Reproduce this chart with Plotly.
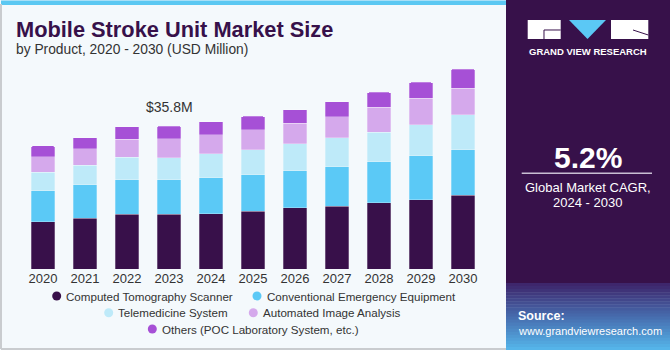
import plotly.graph_objects as go

# ---------------- data ----------------
years = ["2020", "2021", "2022", "2023", "2024", "2025", "2026", "2027", "2028", "2029", "2030"]
ct_scanner = [11.8, 12.7, 13.7, 13.7, 13.8, 14.5, 15.3, 15.7, 16.6, 17.3, 18.5]
emergency_equipment = [7.8, 8.4, 8.7, 8.7, 9.1, 9.1, 9.3, 9.9, 10.3, 11.0, 11.3]
telemedicine = [4.6, 4.9, 5.6, 5.5, 5.9, 6.3, 6.7, 7.3, 7.3, 7.8, 8.8]
image_analysis = [3.9, 4.1, 4.5, 4.7, 4.8, 5.0, 5.2, 5.2, 6.3, 6.7, 6.7]
others = [2.7, 2.8, 3.1, 3.2, 3.3, 3.3, 3.4, 3.8, 3.7, 3.9, 4.7]

series_names = [
    "Computed Tomography Scanner",
    "Conventional Emergency Equipment",
    "Telemedicine System",
    "Automated Image Analysis",
    "Others (POC Laboratory System, etc.)",
]
series_values = [ct_scanner, emergency_equipment, telemedicine, image_analysis, others]
series_colors = ["#38104A", "#5BC9F6", "#BEEAF9", "#D5A9EC", "#A650D6"]

highlight_year = "2023"
highlight_label = "$35.8M"
cagr_text = "5.2%"

# ---------------- layout geometry ----------------
W, H = 670, 350
L, R, T, B = 22, 186, 60, 81
pw, ph = W - L - R, H - T - B
px_per_unit = 3.994


def fx(p):
    return (p - L) / pw


def fy(p):
    return (H - B - p) / ph


fig = go.Figure()
for name, vals, color in zip(series_names, series_values, series_colors):
    fig.add_trace(go.Bar(
        x=years, y=vals, name=name, showlegend=False,
        marker=dict(color=color, line=dict(width=0.6, color="rgba(255,255,255,0.45)")),
        hoverinfo="skip",
    ))

shapes = []
annotations = []

# backgrounds
shapes.append(dict(type="rect", xref="paper", yref="paper", x0=fx(506), x1=fx(670), y0=fy(0), y1=fy(283),
                   fillcolor="#37114A", line_width=0, layer="below"))
top_c = (0x3E, 0x26, 0x6C)
mid_c = (0x47, 0x6C, 0xAE)
bot_c = (0x55, 0xB4, 0xE9)
steps = 22
y_start, y_end = 283, 350
for i in range(steps):
    t = i / (steps - 1)
    if t < 0.5:
        a, b_, tt = top_c, mid_c, t / 0.5
    else:
        a, b_, tt = mid_c, bot_c, (t - 0.5) / 0.5
    c = tuple(int(a[k] + (b_[k] - a[k]) * tt) for k in range(3))
    y0 = y_start + (y_end - y_start) * i / steps
    y1 = y_start + (y_end - y_start) * (i + 1) / steps
    shapes.append(dict(type="rect", xref="paper", yref="paper", x0=fx(506), x1=fx(670), y0=fy(y0), y1=fy(y1 + 0.5),
                       fillcolor="rgb(%d,%d,%d)" % c, line_width=0, layer="below"))

shapes.append(dict(type="rect", xref="paper", yref="paper", x0=fx(1), x1=fx(506), y0=fy(0.5), y1=fy(5),
                   fillcolor="#5BC8F2", line_width=0, layer="below"))
shapes.append(dict(type="line", xref="paper", yref="paper", x0=fx(1), x1=fx(1), y0=fy(4), y1=fy(349),
                   line=dict(color="#C9CCCF", width=2), layer="below"))
shapes.append(dict(type="line", xref="paper", yref="paper", x0=fx(1), x1=fx(506), y0=fy(349), y1=fy(349),
                   line=dict(color="#C9CCCF", width=2), layer="below"))

# logo
shapes.append(dict(type="rect", xref="paper", yref="paper", x0=fx(527.7), x1=fx(560.7), y0=fy(20), y1=fy(39),
                   fillcolor="white", line_width=0))
shapes.append(dict(type="path", xref="paper", yref="paper",
                   path="M %f,%f L %f,%f L %f,%f" % (fx(544), fy(39), fx(544), fy(30), fx(560.7), fy(30)),
                   line=dict(color="#37114A", width=1)))
shapes.append(dict(type="path", xref="paper", yref="paper",
                   path="M %f,%f L %f,%f L %f,%f Z" % (fx(569), fy(20), fx(606), fy(20), fx(587.5), fy(39)),
                   fillcolor="#5BC8F5", line_width=0))
shapes.append(dict(type="rect", xref="paper", yref="paper", x0=fx(611), x1=fx(648.3), y0=fy(20), y1=fy(39),
                   fillcolor="white", line_width=0))
shapes.append(dict(type="line", xref="paper", yref="paper", x0=fx(633), x1=fx(648.3), y0=fy(30), y1=fy(35),
                   line=dict(color="#37114A", width=1)))
annotations.append(dict(text="<b>GRAND VIEW RESEARCH</b>", xref="paper", yref="paper", x=fx(588), y=fy(51),
                        xanchor="center", yanchor="middle", showarrow=False,
                        font=dict(family="Liberation Sans", size=9.5, color="white")))

# CAGR block
annotations.append(dict(text="<b>%s</b>" % cagr_text, xref="paper", yref="paper", x=fx(587.5), y=fy(157),
                        xanchor="center", yanchor="middle", showarrow=False,
                        font=dict(family="Liberation Sans", size=30, color="white")))
shapes.append(dict(type="line", xref="paper", yref="paper", x0=fx(521.7), x1=fx(652), y0=fy(173.3), y1=fy(173.3),
                   line=dict(color="#C9BFD3", width=1.5)))
annotations.append(dict(text="Global Market CAGR,", xref="paper", yref="paper", x=fx(587.5), y=fy(187),
                        xanchor="center", yanchor="middle", showarrow=False,
                        font=dict(family="Liberation Sans", size=13, color="white")))
annotations.append(dict(text="2024 - 2030", xref="paper", yref="paper", x=fx(587.5), y=fy(202),
                        xanchor="center", yanchor="middle", showarrow=False,
                        font=dict(family="Liberation Sans", size=13, color="white")))

# source
annotations.append(dict(text="<b>Source:</b>", xref="paper", yref="paper", x=fx(516), y=fy(316),
                        xanchor="left", yanchor="middle", showarrow=False,
                        font=dict(family="Liberation Sans", size=12.5, color="white")))
annotations.append(dict(text="www.grandviewresearch.com", xref="paper", yref="paper", x=fx(516), y=fy(331),
                        xanchor="left", yanchor="middle", showarrow=False,
                        font=dict(family="Liberation Sans", size=11, color="white")))

# title
annotations.append(dict(text="<b>Mobile Stroke Unit Market Size</b>", xref="paper", yref="paper", x=fx(14), y=fy(29.5),
                        xanchor="left", yanchor="middle", showarrow=False,
                        font=dict(family="Liberation Sans", size=21.8, color="#37114A")))
annotations.append(dict(text="by Product, 2020 - 2030 (USD Million)", xref="paper", yref="paper", x=fx(14), y=fy(49),
                        xanchor="left", yanchor="middle", showarrow=False,
                        font=dict(family="Liberation Sans", size=13.8, color="#333333")))

# highlight label
hi = years.index(highlight_year)
hi_total = sum(v[hi] for v in series_values)
annotations.append(dict(text=highlight_label, xref="x", yref="y", x=hi, y=hi_total,
                        xanchor="center", yanchor="bottom", yshift=9, showarrow=False,
                        font=dict(family="Liberation Sans", size=14, color="#333333")))

# custom legend
legend_layout = [  # (circle x, text x, y) per entry
    (56.7, 64, 296),
    (257, 264.5, 296),
    (108.7, 116, 312.7),
    (253.3, 260.5, 312.7),
    (152.3, 160, 329),
]
for (cx, tx, cy), name, color in zip(legend_layout, series_names, series_colors):
    r = 4.5
    shapes.append(dict(type="circle", xref="paper", yref="paper", x0=fx(cx - r), x1=fx(cx + r),
                       y0=fy(cy - r), y1=fy(cy + r), fillcolor=color, line_width=0))
    annotations.append(dict(text=name, xref="paper", yref="paper", x=fx(tx), y=fy(cy),
                            xanchor="left", yanchor="middle", showarrow=False,
                            font=dict(family="Liberation Sans", size=11.6, color="#333333")))

fig.update_layout(
    width=W, height=H,
    margin=dict(l=L, r=R, t=T, b=B, pad=0, autoexpand=False),
    paper_bgcolor="#F4F9FC", plot_bgcolor="rgba(0,0,0,0)",
    barmode="stack", bargap=0.43, barcornerradius=2,
    showlegend=False,
    xaxis=dict(type="category", categoryorder="array", categoryarray=years,
               range=[-0.5, len(years) - 0.5], showgrid=False, showline=False, zeroline=False, ticks="",
               tickfont=dict(family="Liberation Sans", size=13, color="#333333"), fixedrange=True),
    yaxis=dict(visible=False, range=[0, ph / px_per_unit], fixedrange=True),
    shapes=shapes, annotations=annotations,
)

fig.write_html("out.html", config={"displayModeBar": False})
